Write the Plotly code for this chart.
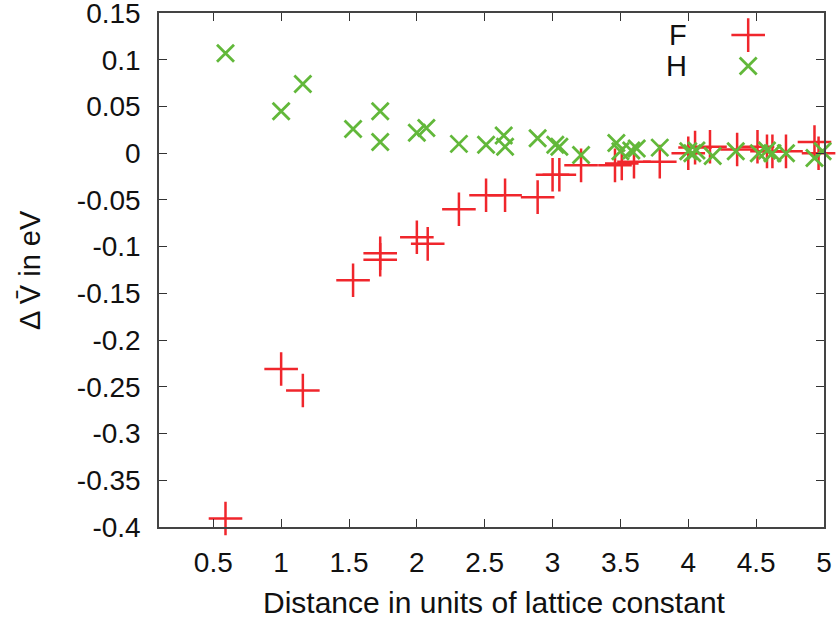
import plotly.graph_objects as go

# ---- data ----
f_x = [0.59, 1.00, 1.16, 1.53, 1.73, 1.73, 2.00, 2.08, 2.31, 2.51, 2.65, 2.89,
       3.00, 3.05, 3.21, 3.46, 3.51, 3.60, 3.79, 4.00, 4.05, 4.16, 4.36, 4.51,
       4.58, 4.62, 4.72, 4.93, 4.96]
f_y = [-0.391, -0.231, -0.254, -0.136, -0.107, -0.114, -0.090, -0.097, -0.060,
       -0.045, -0.045, -0.047, -0.023, -0.023, -0.013, -0.013, -0.011, -0.009,
       -0.009, 0.000, 0.006, 0.007, 0.004, 0.007, 0.002, 0.002, 0.002, 0.012, 0.000]

h_x = [0.59, 1.00, 1.16, 1.53, 1.73, 1.73, 2.00, 2.07, 2.31, 2.51, 2.64, 2.65,
       2.89, 3.02, 3.05, 3.21, 3.47, 3.50, 3.58, 3.62, 3.79, 4.00, 4.03, 4.06,
       4.18, 4.35, 4.52, 4.58, 4.62, 4.72, 4.93, 4.99]
h_y = [0.107, 0.045, 0.074, 0.026, 0.045, 0.012, 0.022, 0.027, 0.010, 0.009,
       0.019, 0.007, 0.016, 0.009, 0.007, -0.002, 0.011, 0.002, 0.003, 0.005,
       0.006, 0.002, 0.000, 0.003, -0.003, 0.002, 0.000, 0.003, 0.000, 0.000,
       -0.005, 0.002]

x_ticks = [0.5, 1, 1.5, 2, 2.5, 3, 3.5, 4, 4.5, 5]
x_labels = ["0.5", "1", "1.5", "2", "2.5", "3", "3.5", "4", "4.5", "5"]
y_ticks = [-0.4, -0.35, -0.3, -0.25, -0.2, -0.15, -0.1, -0.05, 0, 0.05, 0.1, 0.15]
y_labels = ["-0.4", "-0.35", "-0.3", "-0.25", "-0.2", "-0.15", "-0.1", "-0.05",
            "0", "0.05", "0.1", "0.15"]

series_names = ["F", "H"]

RED = "#f0262c"
GREEN = "#62b83a"
FONT = "Liberation Sans, Arial, sans-serif"

fig = go.Figure()
fig.add_trace(go.Scatter(
    x=f_x, y=f_y, mode="markers", name=series_names[0], cliponaxis=False,
    marker=dict(symbol="cross-thin", size=24, color=RED,
                line=dict(color=RED, width=2.5))))
fig.add_trace(go.Scatter(
    x=h_x, y=h_y, mode="markers", name=series_names[1], cliponaxis=False,
    marker=dict(symbol="x-thin", size=17, color=GREEN,
                line=dict(color=GREEN, width=2.8))))

# legend keys (gnuplot style: text left, sample right) on an overlay unit axis
leg_y = [0.957, 0.897]
fig.add_trace(go.Scatter(
    x=[0.886], y=[leg_y[0]], xaxis="x2", yaxis="y2", mode="markers", showlegend=False,
    marker=dict(symbol="cross-thin", size=24, color=RED, line=dict(color=RED, width=2.5))))
fig.add_trace(go.Scatter(
    x=[0.886], y=[leg_y[1]], xaxis="x2", yaxis="y2", mode="markers", showlegend=False,
    marker=dict(symbol="x-thin", size=17, color=GREEN, line=dict(color=GREEN, width=2.8))))
for name, yy in zip(series_names, leg_y):
    fig.add_annotation(x=0.797, y=yy, xref="x2", yref="y2", text=name,
                       showarrow=False, xanchor="right", yanchor="middle",
                       font=dict(family=FONT, size=29, color="#111"))

axis_common = dict(showgrid=False, zeroline=False, showline=True, linecolor="#444",
                   linewidth=1.5, ticks="inside", ticklen=8, tickwidth=1.2,
                   tickcolor="#333", mirror="ticks", ticklabeloverflow="allow",
                   automargin=False,
                   tickfont=dict(family=FONT, size=28, color="#111"))

fig.update_layout(
    width=840, height=624,
    margin=dict(l=159, r=16, t=13, b=97, autoexpand=False),
    paper_bgcolor="white", plot_bgcolor="white",
    showlegend=False,
    xaxis=dict(range=[0.1, 5.0001], tickvals=x_ticks, ticktext=x_labels,
               ticklabelstandoff=10, **axis_common),
    yaxis=dict(range=[-0.4001, 0.1501], tickvals=y_ticks, ticktext=y_labels,
               ticklabelstandoff=11, **axis_common),
    xaxis2=dict(range=[0, 1], overlaying="x", visible=False),
    yaxis2=dict(range=[0, 1], overlaying="y", visible=False),
)

fig.add_annotation(x=0.505, y=-0.147, xref="paper", yref="paper",
                   xanchor="center", yanchor="middle",
                   text="Distance in units of lattice constant", showarrow=False,
                   font=dict(family=FONT, size=30, color="#111"))
fig.add_annotation(x=-0.194, y=0.5, xref="paper", yref="paper",
                   xanchor="center", yanchor="middle",
                   text="\u0394 V\u0304 in eV", showarrow=False, textangle=-90,
                   font=dict(family=FONT, size=29, color="#111"))

fig.write_html("out.html",
               config={"displayModeBar": False},
               post_script="document.body.style.margin='0';")
